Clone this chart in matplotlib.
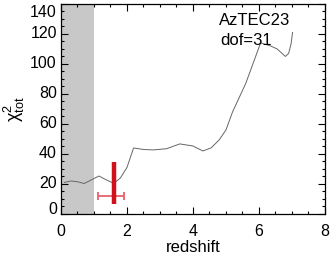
import numpy as np
import matplotlib
matplotlib.use("Agg")
import matplotlib.pyplot as plt
from matplotlib.ticker import MultipleLocator

# chi^2 curve
z = [0.1, 0.3, 0.5, 0.7, 0.9, 1.15, 1.35, 1.6, 1.8, 2.0, 2.2, 2.5, 2.8, 3.2,
     3.6, 4.0, 4.3, 4.55, 4.8, 5.0, 5.2, 5.6, 5.85, 6.05, 6.35, 6.55, 6.8,
     6.9, 6.97, 7.02]
chi2 = [21, 22, 21.5, 20.3, 22.5, 25.3, 23, 20.4, 24, 31, 44, 43, 42.7, 43.5,
        46.7, 45.3, 42, 44, 49.5, 56, 68, 87, 102, 114, 112, 110, 105,
        107, 113, 121]

# excluded redshift range and best-fit redshift with errors
shade_range = [0, 1.0]
z_best = 1.62
z_err = [0.51, 0.29]
chi_bar = [6.5, 34.5]
chi_hbar = 12.2

source = "AzTEC23"
dof = 31
yticks = [0, 20, 40, 60, 80, 100, 120, 140]

plt.rcParams['font.family'] = ['Liberation Sans', 'DejaVu Sans']
plt.rcParams['mathtext.default'] = 'regular'
plt.rcParams['font.size'] = 11.5

fig = plt.figure(figsize=(3.32, 2.60), dpi=100)
ax = fig.add_axes([0.1837, 0.177, 0.795, 0.808])

ax.axvspan(shade_range[0], shade_range[1], color='#c8c8c8', lw=0)
ax.plot(z, chi2, color='0.4', lw=0.7)

ax.errorbar(z_best, chi_hbar, xerr=[[z_err[0]], [z_err[1]]], color='#e8606a',
            lw=1.3, capsize=3, capthick=1.3)
ax.plot([z_best, z_best], chi_bar, color='#d0101a', lw=3.2, solid_capstyle='butt')

ax.text(4.79, 129, source, fontsize=12, va='center')
ax.text(4.82, 115.5, "dof=%d" % dof, fontsize=12, va='center')

ax.set_xlim(0, 8)
ax.set_ylim(0, 140)
ax.xaxis.set_major_locator(MultipleLocator(2))
ax.xaxis.set_minor_locator(MultipleLocator(0.5))
ax.set_yticks(yticks)
ax.yaxis.set_minor_locator(MultipleLocator(5))
ax.tick_params(which='both', direction='in', top=True, right=True, width=0.8)
ax.tick_params(which='major', length=5)
ax.tick_params(which='minor', length=2.5)
ax.tick_params(axis='x', pad=7)
ax.tick_params(axis='y', labelleft=False)
for s in ax.spines.values():
    s.set_linewidth(0.9)

# y tick labels, the end ones pulled inside the axis span as in the original
for v in yticks:
    dy = 0
    if v == yticks[0]:
        dy = 3
    elif v == yticks[-1]:
        dy = -6.5
    ax.annotate(str(v), xy=(0, v), xycoords=('axes fraction', 'data'),
                xytext=(-3, dy), textcoords='offset points',
                ha='right', va='center', fontsize=11.5)

ax.set_xlabel("redshift", fontsize=12, labelpad=1)
ax.set_ylabel(r"$\chi^2_{tot}$", fontsize=13, labelpad=21)

fig.savefig("out.png", dpi=100)
